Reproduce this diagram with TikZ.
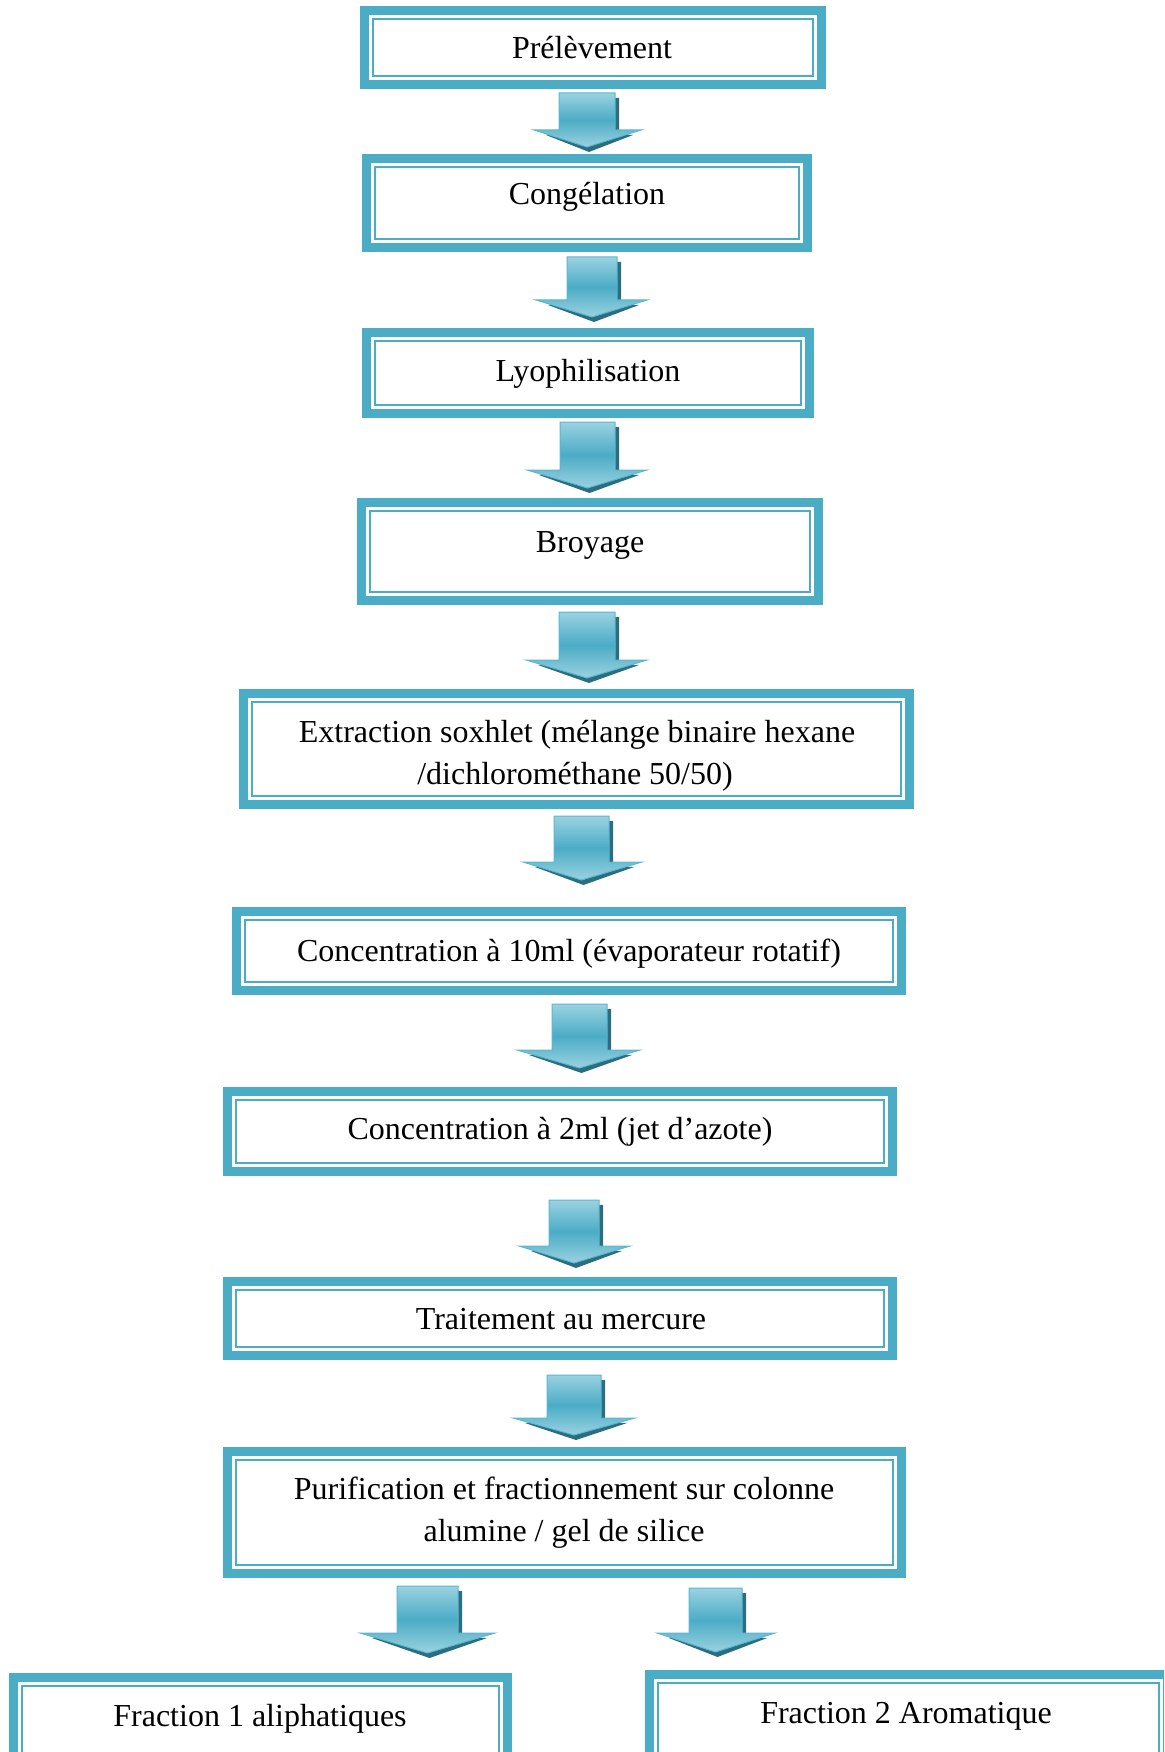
\documentclass[tikz,border=0pt]{standalone}
\usepackage{fontspec}
\setmainfont{Liberation Serif}
\definecolor{boxc}{HTML}{4BACC6}
\definecolor{arrlight}{HTML}{9AD2E1}
\definecolor{arrmid}{HTML}{4BACC6}
\definecolor{arrline}{HTML}{5DB6CE}
\definecolor{arrshadow}{HTML}{2A6E80}
\tikzset{
  stepbox/.style={draw=boxc, line width=9pt, inner sep=0pt, fill=white,
    path picture={\draw[boxc, line width=2pt]
      ([shift={(8.5pt,8.5pt)}]path picture bounding box.south west) rectangle
      ([shift={(-8.5pt,-8.5pt)}]path picture bounding box.north east);}},
  lbl/.style={anchor=base, inner sep=0pt, font=\fontsize{32}{42}\selectfont},
}
% #1 shaft left, #2 shaft right, #3 head left, #4 head right, #5 top, #6 head base, #7 tip
\newcommand{\flowarrow}[7]{%
  \fill[arrshadow] (#1+4,#5+5) -- (#2+4,#5+5) -- (#2+4,#6+4) -- (#4-8,#6+5)
     -- ({(#1+#2)/2+2},#7+5) -- (#3+12,#6+5) -- (#1+4,#6+4) -- cycle;
  \shade[top color=arrlight, bottom color=arrlight, middle color=arrmid,
     draw=arrline, line width=1pt, line join=miter]
     (#1,#5) -- (#2,#5) -- (#2,#6) -- (#4,#6) -- ({(#1+#2)/2},#7)
     -- (#3,#6) -- (#1,#6) -- cycle;
}
\begin{document}
\begin{tikzpicture}[x=1pt,y=-1pt]
\useasboundingbox (0,0) rectangle (1164,1752);
\clip (0,0) rectangle (1164,1752);

% boxes (outer edge minus 9)
\node[stepbox, minimum width=457pt, minimum height=74pt] (b1) at (593,47.5) {};
\node[stepbox, minimum width=441pt, minimum height=89pt] (b2) at (587,203) {};
\node[stepbox, minimum width=443pt, minimum height=81pt] (b3) at (588,373) {};
\node[stepbox, minimum width=457pt, minimum height=98pt] (b4) at (590,551.5) {};
\node[stepbox, minimum width=666pt, minimum height=111pt] (b5) at (576.5,749) {};
\node[stepbox, minimum width=665pt, minimum height=79pt] (b6) at (569,951) {};
\node[stepbox, minimum width=665pt, minimum height=80pt] (b7) at (560,1131.5) {};
\node[stepbox, minimum width=665pt, minimum height=74pt] (b8) at (560,1318.5) {};
\node[stepbox, minimum width=674pt, minimum height=122pt] (b9) at (564.5,1512.5) {};
\node[stepbox, minimum width=494pt, minimum height=108pt] (b10) at (260.5,1731.5) {};
\node[stepbox, minimum width=518pt, minimum height=111pt] (b11) at (908.5,1730) {};

% texts
\node[lbl] (t1) at (592,59) {Prélèvement};
\node[lbl] (t2) at (587,205) {Congélation};
\node[lbl] (t3) at (588,381) {Lyophilisation};
\node[lbl] (t4) at (590,552) {Broyage};
\node[lbl] (t5a) at (577,742) {Extraction soxhlet (mélange binaire hexane};
\node[lbl] (t5b) at (575,784) {/dichlorométhane 50/50)};
\node[lbl] (t6) at (569,961) {Concentration à 10ml (évaporateur rotatif)};
\node[lbl] (t7) at (560,1139) {Concentration à 2ml (jet d’azote)};
\node[lbl] (t8) at (561,1329) {Traitement au mercure};
\node[lbl] (t9a) at (564,1499) {Purification et fractionnement sur colonne};
\node[lbl] (t9b) at (564,1541) {alumine / gel de silice};
\node[lbl] (t10) at (260,1726) {Fraction 1 aliphatiques};
\node[lbl] (t11) at (906,1723) {Fraction 2 Aromatique};

% block arrows
\flowarrow{559}{615}{534}{641}{93}{130}{147}
\flowarrow{567}{617}{536}{647}{257}{300}{317}
\flowarrow{560}{615}{527}{647}{422}{470}{488}
\flowarrow{559}{615}{526}{647}{612}{660}{678}
\flowarrow{554}{609}{523}{642}{816}{862}{880}
\flowarrow{552}{607}{517}{640}{1004}{1050}{1068}
\flowarrow{549}{599}{519}{630}{1200}{1246}{1263}
\flowarrow{547}{601}{513}{635}{1375}{1418}{1435}
\flowarrow{397}{458}{360}{495}{1586}{1633}{1653}
\flowarrow{689}{742}{657}{775}{1588}{1633}{1652}
\end{tikzpicture}
\end{document}
